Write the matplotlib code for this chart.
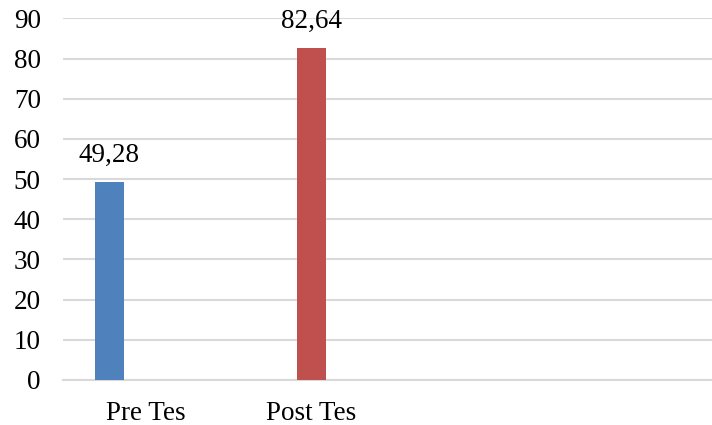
import matplotlib.pyplot as plt

# Scores
groups = ["Pre Tes", "Post Tes"]
scores = [49.28, 82.64]
bar_colors = ["#4F81BD", "#C0504D"]
y_ticks = list(range(0, 100, 10))

plt.rcParams["font.family"] = ["Liberation Serif", "DejaVu Serif"]
FS = 19.5

fig = plt.figure(figsize=(7.12, 4.25), dpi=100)
ax = fig.add_axes([0.0885, 0.1059, 0.9115, 0.8506])

pos = [0, 1]
ax.bar(pos, scores, width=0.144, color=bar_colors, zorder=3)

for x, v in zip(pos, scores):
    ax.annotate(f"{v:.2f}".replace(".", ","), (x, v), xytext=(0, 10),
                textcoords="offset points", ha="center", va="bottom",
                fontsize=FS, color="black")

ax.set_xlim(-0.23, 2.983)
ax.set_ylim(0, 90)
ax.set_yticks(y_ticks)
ax.set_yticklabels([str(t) for t in y_ticks], fontsize=FS)
ax.set_xticks([0.18, 1.0])
ax.set_xticklabels(groups, fontsize=FS)

ax.grid(axis="y", color="#D9D9D9", linewidth=1.5, zorder=0)
for side in ["top", "right", "left"]:
    ax.spines[side].set_visible(False)
ax.spines["bottom"].set_color("#D9D9D9")
ax.spines["bottom"].set_linewidth(1.5)
ax.tick_params(axis="both", length=0)
ax.tick_params(axis="y", pad=16)
ax.tick_params(axis="x", pad=15)

fig.savefig("out.png", dpi=100)
